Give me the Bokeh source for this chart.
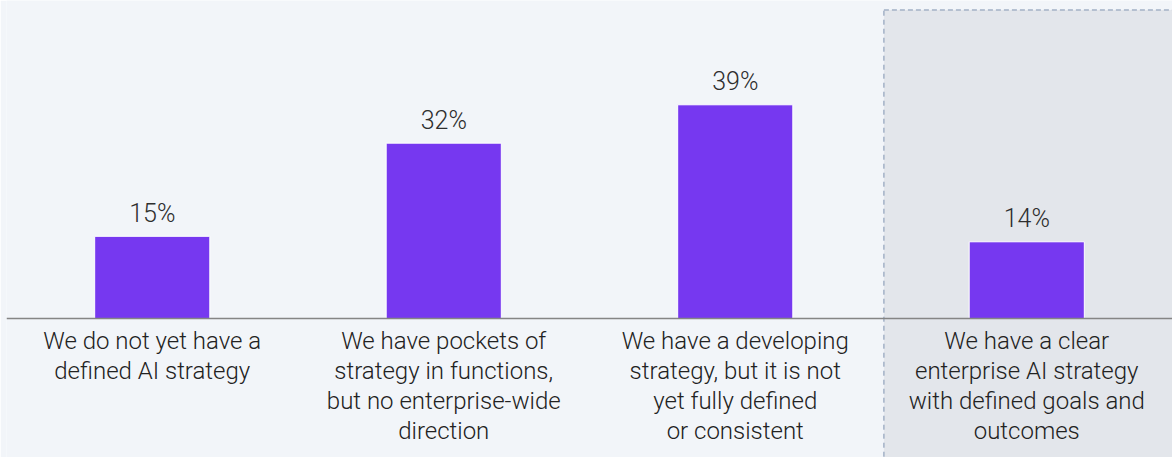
from bokeh.plotting import figure
from bokeh.models import Range1d, Span, ColumnDataSource
from bokeh.core.properties import value
from bokeh.embed import file_html
from bokeh.resources import INLINE

categories = [
    "We do not yet have a\ndefined AI strategy",
    "We have pockets of\nstrategy in functions,\nbut no enterprise-wide\ndirection",
    "We have a developing\nstrategy, but it is not\nyet fully defined\nor consistent",
    "We have a clear\nenterprise AI strategy\nwith defined goals and\noutcomes",
]
values = [15, 32, 39, 14]
value_labels = [f"{v}%" for v in values]
highlight_index = 3

BG = "#F2F5F9"
SHADE = "#E3E6EB"
BAR = "#7638F0"
FONT = "Roboto Light"

x = [i + 0.5 for i in range(len(values))]
src = ColumnDataSource(dict(x=x, top=values, lab=value_labels, cat=categories, zero=[0] * len(values)))

p = figure(width=1172, height=457, output_backend="svg", toolbar_location=None,
           x_range=Range1d(0, len(values)), y_range=Range1d(-25.36, 58.03),
           min_border_left=6, min_border_right=0, min_border_top=0, min_border_bottom=0)
p.background_fill_color = BG
p.border_fill_color = BG
p.outline_line_color = None
p.xaxis.visible = False
p.yaxis.visible = False
p.xgrid.visible = False
p.ygrid.visible = False

# highlighted region
hx = highlight_index + 0.01
p.quad(left=[hx], right=[len(values) + 1], bottom=[-40], top=[56.3],
       fill_color=SHADE, line_color=None)
p.segment(x0=[hx], y0=[-40], x1=[hx], y1=[56.3],
          line_color="#7F93B0", line_width=1, line_dash="5 4")
p.segment(x0=[hx], y0=[56.3], x1=[len(values) + 1], y1=[56.3],
          line_color="#7F93B0", line_width=1, line_dash="5 3")

p.vbar(x="x", top="top", bottom=0, width=0.395, source=src,
       fill_color=BAR, line_color="white", line_width=1)

p.add_layout(Span(location=0, dimension="width", line_color="#858585", line_width=1.5))

p.text(x="x", y="top", text="lab", source=src, text_align="center",
       text_baseline="alphabetic", y_offset=-23, text_font=value(FONT),
       text_font_size="25px", text_color="#2e2e2e")

p.text(x="x", y="zero", text="cat", source=src, text_align="center",
       text_baseline="top", y_offset=8, text_font=value(FONT),
       text_font_size="24px", text_color="#222222", text_line_height=1.08)

open("out.html", "w").write(file_html(p, INLINE))
